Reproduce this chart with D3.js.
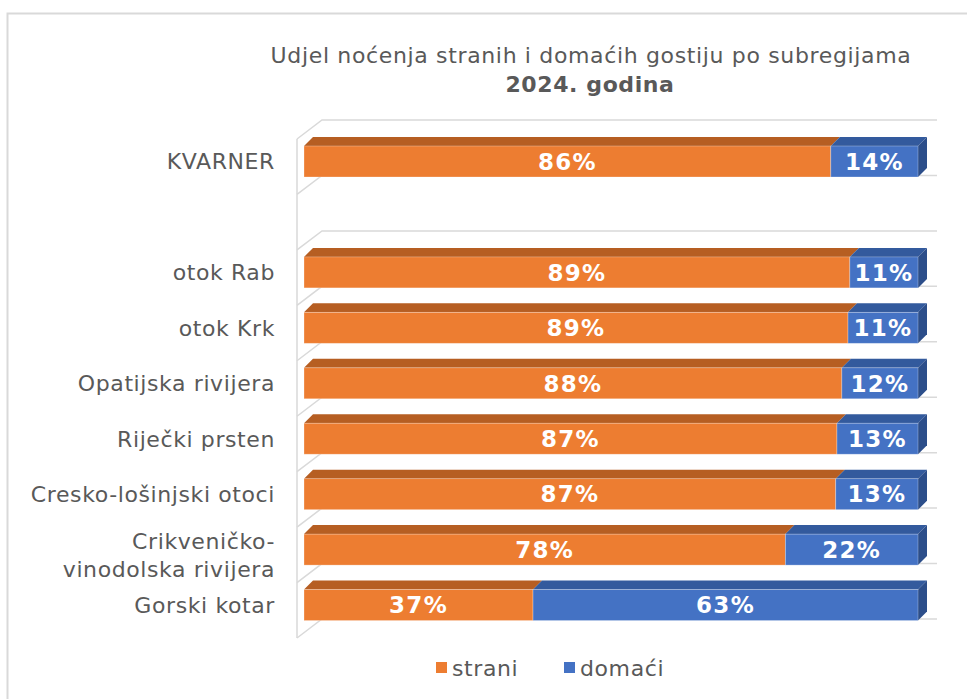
<!DOCTYPE html>
<html>
<head>
<meta charset="utf-8">
<script src="https://cdn.jsdelivr.net/npm/d3@7"></script>
<style>
  body { margin: 0; background: #fff; }
  svg { font-family: "DejaVu Sans", Verdana, sans-serif; }
</style>
</head>
<body>
<div id="svg-area"></div>
<script>
// chart data
var categories = ["KVARNER", "", "otok Rab", "otok Krk", "Opatijska rivijera", "Riječki prsten",
  "Cresko-lošinjski otoci", "Crikveničko-\nvinodolska rivijera", "Gorski kotar"];
var strani = [85.8, null, 88.9, 88.6, 87.6, 86.8, 86.6, 78.4, 37.3];
var domaci = [14.2, null, 11.1, 11.4, 12.4, 13.2, 13.4, 21.6, 62.7];
var seriesNames = ["strani", "domaći"];
var titleLines = ["Udjel noćenja stranih i domaćih gostiju po subregijama", "2024. godina"];

var svgWidth = 967;
var svgHeight = 699;

var colors = {
  strani: { front: "#ED7D31", top: "#B65E22", side: "#A3521D" },
  domaci: { front: "#4472C4", top: "#335A9D", side: "#2C4E8A" }
};

var svg = d3.select("#svg-area")
  .append("svg")
  .attr("width", svgWidth)
  .attr("height", svgHeight);

// outer border of the chart
svg.append("rect")
  .attr("x", 7.5).attr("y", 13.5)
  .attr("width", svgWidth).attr("height", svgHeight)
  .attr("fill", "none")
  .attr("stroke", "#D9D9D9")
  .attr("stroke-width", 2);

// scales (front plane)
var yScale = d3.scaleBand()
  .domain(categories)
  .range([139, 638]);

var xScale = d3.scaleLinear()
  .domain([0, 100])
  .range([304, 918]);

// 3d offsets
var wallDx = 25, wallDy = -19;
var depth = 9;
var wallX = 297;
var barTop = 7, barH = 31;

// side wall and gridlines
var grid = svg.append("g")
  .attr("stroke", "#D9D9D9")
  .attr("stroke-width", 1.5)
  .attr("fill", "none");

var bounds = categories.map(c => yScale(c)).concat([yScale.range()[1]]);

grid.append("line")
  .attr("x1", wallX).attr("x2", wallX)
  .attr("y1", bounds[0]).attr("y2", bounds[bounds.length - 1]);

grid.selectAll("path.diag")
  .data(bounds)
  .enter()
  .append("path")
  .attr("class", "diag")
  .attr("d", d => `M${wallX},${d} L${wallX + wallDx},${d + wallDy} L${xScale(100) + 19},${d + wallDy}`);

// bars
var rows = categories.map((c, i) => ({ cat: c, strani: strani[i], domaci: domaci[i] }))
  .filter(d => d.strani != null);

var segs = [];
rows.forEach(function(r) {
  segs.push({ cat: r.cat, key: "strani", x0: 0, x1: r.strani, v: r.strani, last: false });
  segs.push({ cat: r.cat, key: "domaci", x0: r.strani, x1: 100, v: r.domaci, last: true });
});

var barGroup = svg.append("g");

// top faces
barGroup.selectAll("path.top")
  .data(segs)
  .enter()
  .append("path")
  .attr("class", "top")
  .attr("fill", d => colors[d.key].top)
  .attr("d", function(d) {
    var a = xScale(d.x0), b = xScale(d.x1), t = yScale(d.cat) + barTop;
    return `M${a},${t} L${a + depth},${t - depth} L${b + depth},${t - depth} L${b},${t} Z`;
  });

// side faces
barGroup.selectAll("path.side")
  .data(segs.filter(d => d.last))
  .enter()
  .append("path")
  .attr("class", "side")
  .attr("fill", d => colors[d.key].side)
  .attr("d", function(d) {
    var b = xScale(d.x1), t = yScale(d.cat) + barTop;
    return `M${b},${t} L${b + depth},${t - depth} L${b + depth},${t + barH - depth} L${b},${t + barH} Z`;
  });

// front faces
barGroup.selectAll("rect.front")
  .data(segs)
  .enter()
  .append("rect")
  .attr("class", "front")
  .attr("x", d => xScale(d.x0))
  .attr("y", d => yScale(d.cat) + barTop)
  .attr("width", d => xScale(d.x1) - xScale(d.x0))
  .attr("height", barH)
  .attr("fill", d => colors[d.key].front)
  .attr("stroke", "rgba(255,255,255,0.35)")
  .attr("stroke-width", 0.8);

// value labels
barGroup.selectAll("text.val")
  .data(segs)
  .enter()
  .append("text")
  .attr("class", "val")
  .attr("x", d => (xScale(d.x0) + xScale(d.x1)) / 2)
  .attr("y", d => yScale(d.cat) + barTop + barH / 2)
  .attr("dy", "0.36em")
  .attr("text-anchor", "middle")
  .attr("fill", "#fff")
  .attr("font-weight", "bold")
  .attr("font-size", 23)
  .attr("letter-spacing", 1.3)
  .text(d => d3.format(".0f")(d.v) + "%");

// category labels
var catLabels = svg.append("g")
  .attr("fill", "#595959")
  .attr("font-size", 22)
  .attr("letter-spacing", 0.6)
  .attr("text-anchor", "end");

categories.forEach(function(c) {
  if (!c) return;
  var lines = c.split("\n");
  var cy = yScale(c) + barTop + barH / 2;
  var t = catLabels.append("text")
    .attr("x", 275)
    .attr("y", lines.length > 1 ? cy - 8.5 : cy);
  lines.forEach(function(l, i) {
    t.append("tspan")
      .attr("x", 275)
      .attr("dy", i === 0 ? "0.36em" : 28)
      .text(l);
  });
});

// title
svg.append("text")
  .attr("x", 591).attr("y", 63)
  .attr("text-anchor", "middle")
  .attr("fill", "#595959")
  .attr("font-size", 22)
  .attr("letter-spacing", 0.65)
  .text(titleLines[0]);

svg.append("text")
  .attr("x", 590).attr("y", 92)
  .attr("text-anchor", "middle")
  .attr("fill", "#595959")
  .attr("font-size", 22)
  .attr("letter-spacing", 0.6)
  .attr("font-weight", "bold")
  .text(titleLines[1]);

// legend
var legend = svg.append("g")
  .attr("font-size", 22)
  .attr("letter-spacing", 0.6)
  .attr("fill", "#595959");

var legendX = [436, 564];
seriesNames.forEach(function(name, i) {
  var key = i === 0 ? "strani" : "domaci";
  legend.append("rect")
    .attr("x", legendX[i]).attr("y", 662)
    .attr("width", 11).attr("height", 11)
    .attr("fill", colors[key].front);
  legend.append("text")
    .attr("x", legendX[i] + 16).attr("y", 668)
    .attr("dy", "0.36em")
    .text(name);
});
</script>
</body>
</html>
